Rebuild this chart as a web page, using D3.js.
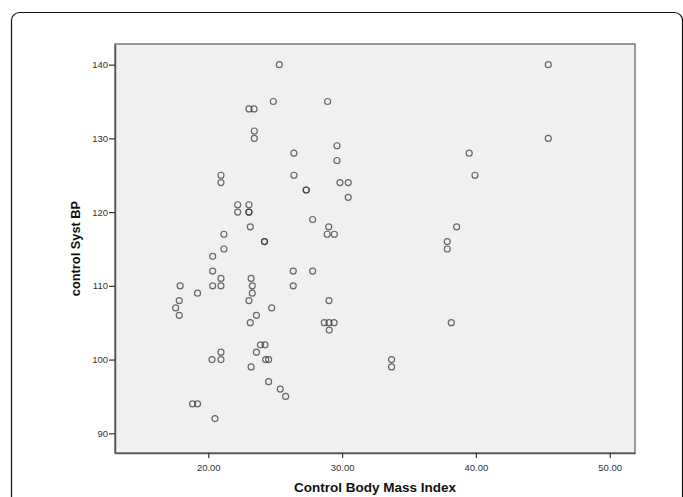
<!DOCTYPE html>
<html>
<head>
<meta charset="utf-8">
<script src="https://cdn.jsdelivr.net/npm/d3@7"></script>
<style>
  html, body { margin: 0; padding: 0; background: #fff; }
  svg { display: block; }
  text { font-family: "Liberation Sans", Arial, sans-serif; }
</style>
</head>
<body>
<svg id="chart" width="683" height="497"></svg>
<script>
// ---- data ----
const bmi = [
  25.31, 24.86, 28.92, 45.41,
  23.04, 23.42,
  23.44, 23.44, 45.41,
  29.62, 26.4, 39.5, 29.62,
  26.4, 20.95, 39.93,
  20.95, 29.84, 30.46,
  27.32, 27.32, 30.46,
  22.2, 23.04,
  22.2, 23.04, 23.04,
  27.8,
  23.14, 29.0, 38.56,
  21.17, 28.89, 29.42,
  24.2, 24.2, 37.86,
  21.17, 37.86,
  20.33,
  20.33, 26.35, 27.8,
  20.95, 23.2,
  17.9, 20.33, 20.95, 23.29, 26.35,
  19.2, 23.29,
  17.83, 23.04, 29.02,
  17.56, 24.74,
  17.83, 23.6,
  23.14, 28.67, 29.02, 29.4, 38.16,
  29.04,
  23.9, 24.24,
  20.95, 23.6,
  20.28, 20.95, 24.29, 24.51, 33.7,
  23.2, 33.7,
  24.51,
  25.38,
  25.78,
  18.83, 19.2,
  20.5
];
const systBP = [
  140, 135, 135, 140,
  134, 134,
  131, 130, 130,
  129, 128, 128, 127,
  125, 125, 125,
  124, 124, 124,
  123, 123, 122,
  121, 121,
  120, 120, 120,
  119,
  118, 118, 118,
  117, 117, 117,
  116, 116, 116,
  115, 115,
  114,
  112, 112, 112,
  111, 111,
  110, 110, 110, 110, 110,
  109, 109,
  108, 108, 108,
  107, 107,
  106, 106,
  105, 105, 105, 105, 105,
  104,
  102, 102,
  101, 101,
  100, 100, 100, 100, 100,
  99, 99,
  97,
  96,
  95,
  94, 94,
  92
];
const xTicks = [20, 30, 40, 50];
const yTicks = [90, 100, 110, 120, 130, 140];
const xTitle = "Control Body Mass Index";
const yTitle = "control Syst BP";

// ---- layout ----
const svg = d3.select("#chart");
const plot = { left: 115, top: 44, right: 635, bottom: 453 };

// outer frame
svg.append("rect")
  .attr("x", 11.5).attr("y", 12.5)
  .attr("width", 671).attr("height", 520)
  .attr("rx", 8).attr("ry", 8)
  .attr("fill", "#fff").attr("stroke", "#111").attr("stroke-width", 1.2);

const x = d3.scaleLinear().domain([13.03, 51.89]).range([plot.left, plot.right]);
const y = d3.scaleLinear().domain([87.33, 142.8]).range([plot.bottom, plot.top]);

// plot background
svg.append("rect")
  .attr("x", plot.left).attr("y", plot.top)
  .attr("width", plot.right - plot.left).attr("height", plot.bottom - plot.top)
  .attr("fill", "#f0f0f0").attr("stroke", "#7a7a7a").attr("stroke-width", 1.5);

// axes
const xAxis = d3.axisBottom(x).tickValues(xTicks).tickSize(5).tickSizeOuter(0)
  .tickFormat(d3.format(".2f"));
const yAxis = d3.axisLeft(y).tickValues(yTicks).tickSize(6).tickSizeOuter(0)
  .tickFormat(d3.format("d"));

const gx = svg.append("g").attr("transform", `translate(0,${plot.bottom})`).call(xAxis);
const gy = svg.append("g").attr("transform", `translate(${plot.left},0)`).call(yAxis);
[gx, gy].forEach(g => {
  g.select(".domain").attr("stroke", "#555").attr("stroke-width", 1.5);
  g.selectAll(".tick line").attr("stroke", "#333").attr("stroke-width", 1.2);
  g.selectAll(".tick text").attr("fill", "#333").attr("font-size", "9.5px")
    .attr("font-family", "'Liberation Sans', Arial, sans-serif");
});
gx.selectAll(".tick text").attr("dy", "0.95em").attr("y", 8.5);
gy.selectAll(".tick text").attr("x", -7);

// points
svg.append("g").selectAll("circle")
  .data(bmi.map((b, i) => [b, systBP[i]]))
  .join("circle")
  .attr("cx", d => x(d[0]))
  .attr("cy", d => y(d[1]))
  .attr("r", 3)
  .attr("fill", "none")
  .attr("stroke", "#333")
  .attr("stroke-opacity", 0.72)
  .attr("stroke-width", 1.2);

// axis titles
svg.append("text")
  .attr("x", (plot.left + plot.right) / 2).attr("y", 492)
  .attr("text-anchor", "middle")
  .attr("font-weight", "bold").attr("font-size", "13.5px").attr("fill", "#111")
  .text(xTitle);

svg.append("text")
  .attr("transform", `translate(80,${(plot.top + plot.bottom) / 2}) rotate(-90)`)
  .attr("text-anchor", "middle")
  .attr("font-weight", "bold").attr("font-size", "12.8px").attr("fill", "#111")
  .text(yTitle);
</script>
</body>
</html>
